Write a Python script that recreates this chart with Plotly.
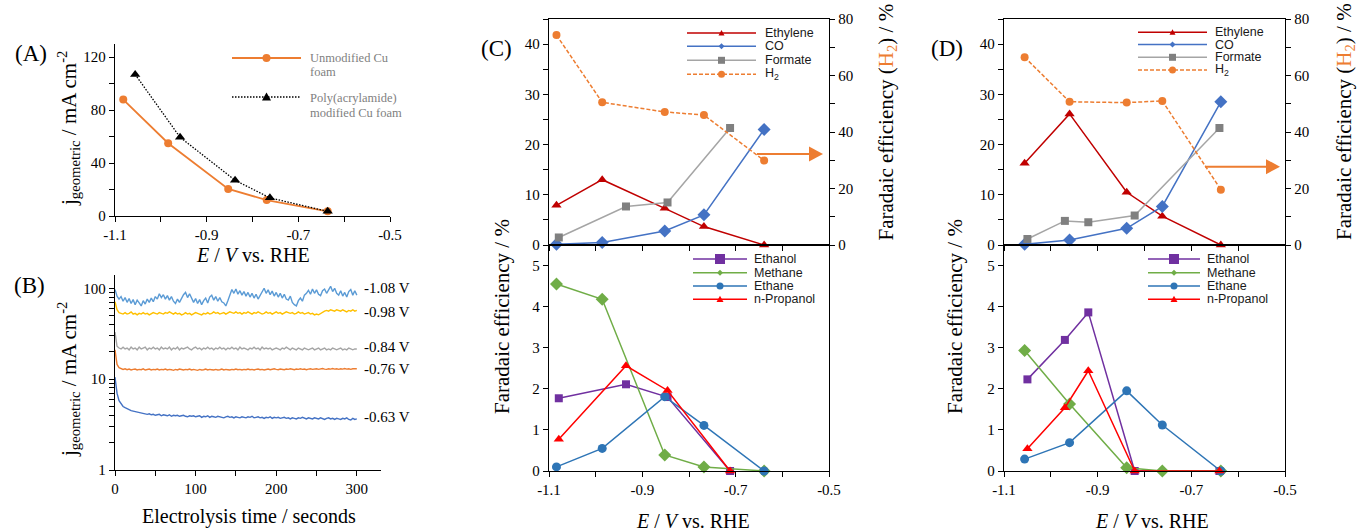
import plotly.graph_objects as go

W, H = 1357, 531


def px(x):
    return x / W


def py(y):
    return 1 - y / H


SERIF = "Liberation Serif"
SANS = "Liberation Sans"

# ---------------- Panel A data ----------------
A_x_unmod = [-1.082, -0.984, -0.853, -0.769, -0.636]
A_j_unmod = [88, 55, 20.5, 12, 3.5]
A_x_poly = [-1.056, -0.958, -0.838, -0.762, -0.636]
A_j_poly = [107, 59.5, 27, 13.7, 3.5]
A_names = ["Unmodified Cu foam", "Poly(acrylamide) modified Cu foam"]

# ---------------- Panel B data ----------------
B_t = [0, 2.5, 5, 7.5, 10, 12.5, 15, 17.5, 20, 22.5,
       25, 27.5, 30, 32.5, 35, 37.5, 40, 42.5, 45, 47.5,
       50, 52.5, 55, 57.5, 60, 62.5, 65, 67.5, 70, 72.5,
       75, 77.5, 80, 82.5, 85, 87.5, 90, 92.5, 95, 97.5,
       100, 102.5, 105, 107.5, 110, 112.5, 115, 117.5, 120, 122.5,
       125, 127.5, 130, 132.5, 135, 137.5, 140, 142.5, 145, 147.5,
       150, 152.5, 155, 157.5, 160, 162.5, 165, 167.5, 170, 172.5,
       175, 177.5, 180, 182.5, 185, 187.5, 190, 192.5, 195, 197.5,
       200, 202.5, 205, 207.5, 210, 212.5, 215, 217.5, 220, 222.5,
       225, 227.5, 230, 232.5, 235, 237.5, 240, 242.5, 245, 247.5,
       250, 252.5, 255, 257.5, 260, 262.5, 265, 267.5, 270, 272.5,
       275, 277.5, 280, 282.5, 285, 287.5, 290, 292.5, 295, 297.5,
       300]
B_m108 = [97, 82, 76, 81, 72, 79, 70, 77, 68, 75,
          66, 74, 69, 64, 73, 67, 76, 70, 78, 71,
          81, 76, 87, 79, 85, 76, 83, 74, 81, 72,
          68, 76, 70, 78, 85, 90, 79, 87, 76, 70,
          77, 68, 75, 66, 73, 78, 69, 80, 84, 74,
          81, 72, 79, 71, 69, 64, 73, 84, 97, 88,
          98, 86, 94, 84, 92, 82, 90, 80, 88, 78,
          86, 76, 84, 94, 100, 88, 96, 85, 93, 82,
          90, 80, 88, 78, 86, 76, 74, 82, 70, 66,
          64, 73, 78, 72, 84, 88, 95, 86, 98, 88,
          96, 86, 83, 94, 98, 88, 97, 105, 92, 100,
          88, 84, 94, 82, 90, 80, 92, 97, 84, 94,
          84]
B_m098 = [71, 58, 54, 53, 52, 54, 52, 53, 55, 52,
          53, 51, 53, 52, 54, 52, 53, 51, 52, 54,
          53, 52, 54, 53, 52, 54, 53, 55, 53, 52,
          54, 52, 53, 51, 52, 54, 52, 53, 51, 52,
          54, 53, 52, 51, 53, 52, 54, 52, 53, 55,
          53, 54, 52, 53, 54, 52, 53, 55, 54, 53,
          55, 53, 54, 52, 54, 53, 55, 53, 52, 54,
          53, 55, 54, 52, 53, 55, 53, 54, 52, 54,
          55, 53, 54, 52, 53, 55, 54, 53, 54, 52,
          53, 55, 53, 54, 52, 53, 54, 52, 53, 51,
          52, 51, 53, 55, 56, 57, 56, 58, 57, 56,
          58, 57, 56, 58, 57, 55, 57, 56, 58, 56,
          57]
B_m084 = [33, 23, 22, 21.5, 22.5, 21.5, 22, 21, 22.5, 21.5,
          22, 21, 22.5, 21.5, 22, 22.5, 21, 22, 21.5, 22.5,
          21.5, 22, 21, 22.5, 21.5, 22, 21.5, 22.5, 21, 22,
          21.5, 22.5, 21, 22, 21.5, 22, 22.5, 21.5, 21, 22,
          22.5, 21.5, 22, 21, 22, 21.5, 22.5, 21.5, 22, 21,
          22, 21.5, 22.5, 21.5, 22, 21, 22, 21.5, 22.5, 21.5,
          22, 21, 22.5, 21.5, 22, 21.5, 21, 22, 21.5, 22.5,
          21.5, 22, 21, 22.5, 21.5, 22, 21.5, 22, 21, 21.5,
          22, 21.5, 21, 22, 21.5, 22.5, 21.5, 21, 22, 21.5,
          21, 22, 21.5, 21, 22, 21.5, 21, 21.5, 22, 21,
          21.5, 22, 21, 21.5, 22, 21, 21.5, 21, 22, 21.5,
          21, 21.5, 22, 21, 21.5, 21, 22, 21.5, 21, 21.5,
          21.5]
B_m076 = [21, 14.5, 13.4, 13, 12.8, 13, 12.7, 12.9, 12.6, 12.8,
          12.9, 12.6, 12.8, 12.7, 13, 12.6, 12.8, 12.9, 12.6, 12.8,
          12.7, 12.9, 12.6, 12.8, 12.7, 12.9, 12.6, 12.8, 12.7, 12.5,
          12.8, 12.6, 12.9, 12.7, 12.6, 12.8, 12.7, 12.9, 12.6, 12.8,
          12.7, 12.5, 12.8, 12.6, 12.7, 12.9, 12.6, 12.8, 12.7, 12.6,
          12.8, 12.6, 12.7, 12.9, 12.6, 12.8, 12.7, 12.6, 12.8, 12.7,
          12.9, 12.7, 12.8, 12.6, 12.8, 12.7, 12.9, 12.7, 12.8, 12.6,
          12.8, 12.9, 12.7, 12.8, 12.6, 12.8, 12.9, 12.7, 12.8, 13,
          12.8, 12.7, 12.9, 12.8, 12.7, 12.9, 12.8, 13, 12.8, 12.7,
          12.9, 12.8, 13, 12.8, 12.9, 12.7, 12.9, 13, 12.8, 12.9,
          13, 12.8, 12.9, 13.1, 12.9, 12.8, 13, 12.9, 13.1, 12.9,
          13, 12.8, 13, 12.9, 13.1, 12.9, 13, 12.8, 13, 12.9,
          13]
B_m063 = [10.5, 7.0, 5.8, 5.3, 5.0, 4.85, 4.7, 4.6, 4.5, 4.45,
          4.4, 4.3, 4.25, 4.2, 4.15, 4.15, 4.1, 4.15, 4.05, 4.1,
          4.0, 4.05, 4.1, 3.95, 4.05, 4.0, 3.95, 4.05, 3.9, 4.0,
          3.95, 4.0, 3.9, 3.95, 4.0, 3.9, 3.85, 3.95, 3.9, 3.95,
          3.85, 3.9, 3.95, 3.8, 3.9, 3.85, 3.95, 3.8, 3.9, 3.85,
          3.8, 3.9, 3.85, 3.8, 3.75, 3.85, 3.9, 3.8, 3.85, 3.75,
          3.85, 3.8, 3.75, 3.85, 3.8, 3.75, 3.85, 3.8, 3.9, 3.75,
          3.8, 3.85, 3.75, 3.8, 3.7, 3.8, 3.75, 3.85, 3.7, 3.8,
          3.75, 3.8, 3.7, 3.75, 3.8, 3.7, 3.75, 3.65, 3.75, 3.7,
          3.65, 3.75, 3.7, 3.8, 3.7, 3.65, 3.75, 3.7, 3.65, 3.75,
          3.7, 3.65, 3.75, 3.7, 3.6, 3.7, 3.75, 3.65, 3.7, 3.6,
          3.7, 3.65, 3.6, 3.7, 3.65, 3.75, 3.6, 3.55, 3.7, 3.6,
          3.65]
B_labels = ["-1.08 V", "-0.98 V", "-0.84 V", "-0.76 V", "-0.63 V"]
B_colors = ["#5B9BD5", "#FFC000", "#A5A5A5", "#ED7D31", "#4472C4"]

# ---------------- Panel C data ----------------
C_x_gas = [-1.084, -0.986, -0.852, -0.768, -0.639]
C_x_liq = [-1.079, -0.935, -0.846, -0.712]
C_ethylene = [7.9, 13.0, 7.3, 3.67, 0]
C_co = [0.13, 0.5, 2.8, 6.0, 23.0]
C_formate = [1.5, 7.67, 8.47, 23.3]
C_h2 = [74.3, 50.5, 47.1, 46.0, 29.9]
C_ethanol = [1.77, 2.11, 1.80, 0]
C_methane = [4.55, 4.18, 0.39, 0.10, 0]
C_ethane = [0.10, 0.55, 1.81, 1.11, 0]
C_propanol = [0.77, 2.56, 1.96, 0]

# ---------------- Panel D data ----------------
D_x_gas = [-1.056, -0.960, -0.838, -0.762, -0.637]
D_x_liq = [-1.050, -0.970, -0.920, -0.821, -0.640]
D_ethylene = [16.3, 26.1, 10.5, 5.73, 0]
D_co = [0.13, 1.0, 3.33, 7.67, 28.5]
D_formate = [1.2, 4.8, 4.53, 5.87, 23.3]
D_h2 = [66.5, 50.7, 50.4, 51.0, 19.6]
D_ethanol = [2.23, 3.19, 3.86, 0, 0]
D_methane = [2.93, 1.63, 0.08, 0, 0]
D_ethane = [0.29, 0.69, 1.95, 1.12, 0]
D_propanol = [0.54, 1.54, 2.44, 0, 0]

TOP_NAMES = ["Ethylene", "CO", "Formate", "H<sub>2</sub>"]
BOT_NAMES = ["Ethanol", "Methane", "Ethane", "n-Propanol"]

E_major = [-1.1, -0.9, -0.7, -0.5]
E_labels = ["-1.1", "-0.9", "-0.7", "-0.5"]
E_minor = [-1.0, -0.8, -0.6]

# styles: (line colour, marker colour, symbol, marker size, dash, legend marker size)
ST = {
    "Ethylene": ("#C00000", "#C00000", "triangle-up", 9, "solid", 6),
    "CO": ("#4472C4", "#4472C4", "diamond", 10, "solid", 5),
    "Formate": ("#A5A5A5", "#808080", "square", 8, "solid", 7),
    "H2": ("#ED7D31", "#ED7D31", "circle", 8, "4px,2px", 7),
    "Ethanol": ("#7030A0", "#7030A0", "square", 8, "solid", 10),
    "Methane": ("#70AD47", "#70AD47", "diamond", 10, "solid", 5),
    "Ethane": ("#2E75B6", "#2E75B6", "circle", 9, "solid", 7),
    "n-Propanol": ("#FF0000", "#FF0000", "triangle-up", 9, "solid", 7),
}

fig = go.Figure()


def add(x, y, xa, ya, key, width=1.5):
    lc, mc, sym, ms, dash, _ = ST[key]
    fig.add_trace(go.Scatter(
        x=x, y=y, xaxis=xa, yaxis=ya, mode="lines+markers", name=key,
        line=dict(color=lc, width=width, dash=dash),
        marker=dict(symbol=sym, size=ms, color=mc, line=dict(width=0)),
        cliponaxis=False, showlegend=False))


# Panel A traces
fig.add_trace(go.Scatter(x=A_x_unmod, y=A_j_unmod, xaxis="x", yaxis="y",
                         mode="lines+markers", name=A_names[0],
                         line=dict(color="#ED7D31", width=1.8),
                         marker=dict(symbol="circle", size=8, color="#ED7D31"),
                         cliponaxis=False, showlegend=False))
fig.add_trace(go.Scatter(x=A_x_poly, y=A_j_poly, xaxis="x", yaxis="y",
                         mode="lines+markers", name=A_names[1],
                         line=dict(color="black", width=1.3, dash="1.5px,1.5px"),
                         marker=dict(symbol="triangle-up", size=9, color="black"),
                         cliponaxis=False, showlegend=False))

# Panel B traces
for vals, col, lab in zip([B_m108, B_m098, B_m084, B_m076, B_m063], B_colors, B_labels):
    fig.add_trace(go.Scatter(x=B_t, y=vals, xaxis="x2", yaxis="y2", mode="lines",
                             name=lab, line=dict(color=col, width=1.4),
                             showlegend=False))

# Panel C traces
add(C_x_gas, C_ethylene, "x3", "y3", "Ethylene")
add(C_x_gas, C_co, "x3", "y3", "CO")
add(C_x_liq, C_formate, "x3", "y3", "Formate")
add(C_x_gas, C_h2, "x3", "y4", "H2")
add(C_x_liq, C_ethanol, "x4", "y5", "Ethanol")
add(C_x_gas, C_methane, "x4", "y5", "Methane")
add(C_x_gas, C_ethane, "x4", "y5", "Ethane")
add(C_x_liq, C_propanol, "x4", "y5", "n-Propanol")

# Panel D traces
add(D_x_gas, D_ethylene, "x5", "y6", "Ethylene")
add(D_x_gas, D_co, "x5", "y6", "CO")
add(D_x_liq, D_formate, "x5", "y6", "Formate")
add(D_x_gas, D_h2, "x5", "y7", "H2")
add(D_x_liq, D_ethanol, "x6", "y8", "Ethanol")
add(D_x_gas, D_methane, "x6", "y8", "Methane")
add(D_x_gas, D_ethane, "x6", "y8", "Ethane")
add(D_x_liq, D_propanol, "x6", "y8", "n-Propanol")

base = dict(showline=True, linecolor="black", linewidth=1.3, ticks="outside",
            ticklen=5, tickwidth=1.2, tickcolor="black", showgrid=False,
            zeroline=False, automargin=False, tickmode="array",
            tickfont=dict(family=SERIF, size=15, color="black"))


def ax(major, labels=None, minor=None, **kw):
    d = dict(base)
    d["tickvals"] = major
    if labels is not None:
        d["ticktext"] = labels
    if minor:
        d["minor"] = dict(tickmode="array", tickvals=minor, ticks="outside",
                          ticklen=5, tickwidth=1.2, tickcolor="black",
                          showgrid=False)
    d.update(kw)
    return d


Ey = lambda top, bot: [py(bot), py(top)]

layout = dict(
    width=W, height=H, margin=dict(l=0, r=0, t=0, b=0),
    paper_bgcolor="white", plot_bgcolor="white", showlegend=False,
    font=dict(family=SERIF, color="black"),
    # Panel A
    xaxis=ax(E_major, E_labels, E_minor, domain=[px(115), px(390)], anchor="y",
             range=[-1.1, -0.5]),
    yaxis=ax([0, 40, 80, 120], ["0", "40", "80", "120"], [20, 60, 100],
             domain=Ey(44, 216), anchor="x", range=[0, 130]),
    # Panel B
    xaxis2=ax([0, 100, 200, 300], ["0", "100", "200", "300"], [50, 150, 250],
              domain=[px(115), px(381)], anchor="y2", range=[0, 330]),
    yaxis2=ax([1, 10, 100], ["1", "10", "100"],
              [2, 3, 4, 5, 6, 7, 8, 9, 20, 30, 40, 50, 60, 70, 80, 90],
              domain=Ey(275, 470), anchor="x2", type="log", range=[0, 2.146]),
    # Panel C top
    xaxis3=ax(E_major, None, E_minor, domain=[px(549), px(829)], anchor="y3",
              range=[-1.1, -0.5], showticklabels=False, mirror=True),
    yaxis3=ax([0, 10, 20, 30, 40], ["0", "10", "20", "30", "40"], [5, 15, 25, 35, 45],
              domain=Ey(19, 245), anchor="x3", range=[0, 45]),
    yaxis4=ax([0, 20, 40, 60, 80], ["0", "20", "40", "60", "80"], [10, 30, 50, 70],
              overlaying="y3", anchor="x3", side="right", range=[0, 80]),
    # Panel C bottom
    xaxis4=ax(E_major, E_labels, E_minor, domain=[px(549), px(829)], anchor="y5",
              range=[-1.1, -0.5], mirror=True),
    yaxis5=ax([0, 1, 2, 3, 4, 5], ["0", "1", "2", "3", "4", "5"], None,
              domain=Ey(245, 471), anchor="x4", range=[0, 5.5], mirror=True),
    # Panel D top
    xaxis5=ax(E_major, None, E_minor, domain=[px(1004), px(1285)], anchor="y6",
              range=[-1.1, -0.5], showticklabels=False, mirror=True),
    yaxis6=ax([0, 10, 20, 30, 40], ["0", "10", "20", "30", "40"], [5, 15, 25, 35, 45],
              domain=Ey(19, 245), anchor="x5", range=[0, 45]),
    yaxis7=ax([0, 20, 40, 60, 80], ["0", "20", "40", "60", "80"], [10, 30, 50, 70],
              overlaying="y6", anchor="x5", side="right", range=[0, 80]),
    # Panel D bottom
    xaxis6=ax(E_major, E_labels, E_minor, domain=[px(1004), px(1285)], anchor="y8",
              range=[-1.1, -0.5], mirror=True),
    yaxis8=ax([0, 1, 2, 3, 4, 5], ["0", "1", "2", "3", "4", "5"], None,
              domain=Ey(245, 471), anchor="x6", range=[0, 5.5], mirror=True),
)
fig.update_layout(**layout)

annotations = []
shapes = []


def ann(text, x, y, size=20, color="black", family=SERIF, xanchor="center",
        angle=0):
    annotations.append(dict(text=text, x=px(x), y=py(y), xref="paper", yref="paper",
                            showarrow=False, xanchor=xanchor, yanchor="middle",
                            textangle=angle,
                            font=dict(size=size, color=color, family=family)))


def poly_shape(pts, color):
    path = "M" + " L".join(f"{px(a):.5f},{py(b):.5f}" for a, b in pts) + " Z"
    shapes.append(dict(type="path", xref="paper", yref="paper", path=path,
                       fillcolor=color, line=dict(width=0), layer="above"))


def marker_shape(cx, cy, sym, s, color):
    r = s / 2
    if sym == "circle":
        shapes.append(dict(type="circle", xref="paper", yref="paper",
                           x0=px(cx - r), x1=px(cx + r), y0=py(cy + r), y1=py(cy - r),
                           fillcolor=color, line=dict(width=0), layer="above"))
        return
    if sym == "square":
        pts = [(cx - r, cy - r), (cx + r, cy - r), (cx + r, cy + r), (cx - r, cy + r)]
    elif sym == "diamond":
        pts = [(cx, cy - r * 1.2), (cx + r * 1.2, cy), (cx, cy + r * 1.2), (cx - r * 1.2, cy)]
    else:  # triangle-up
        pts = [(cx - r, cy + r * 0.8), (cx + r, cy + r * 0.8), (cx, cy - r)]
    poly_shape(pts, color)


def leg_key(x0, x1, y, lc, mc, sym, ms, dash="solid", width=1.5):
    shapes.append(dict(type="line", xref="paper", yref="paper",
                       x0=px(x0), x1=px(x1), y0=py(y), y1=py(y),
                       line=dict(color=lc, width=width, dash=dash), layer="above"))
    marker_shape((x0 + x1) / 2, y, sym, ms, mc)


def arrow(tail_x, head_x, y, color="#ED7D31"):
    head_len, half_h = 14, 7.5
    shapes.append(dict(type="line", xref="paper", yref="paper",
                       x0=px(tail_x), x1=px(head_x - head_len + 1), y0=py(y), y1=py(y),
                       line=dict(color=color, width=2), layer="above"))
    poly_shape([(head_x - head_len, y - half_h), (head_x, y),
                (head_x - head_len, y + half_h)], color)


# ---- Panel labels
ann("(A)", 31, 53, size=23)
ann("(B)", 29, 285, size=23)
ann("(C)", 496, 48, size=23)
ann("(D)", 947, 49, size=23)

E_title = "<i>E</i> / <i>V</i> vs. RHE"
J_title = "j<sub>geometric</sub> / mA cm<sup>-2</sup>"
FE_left = "Faradaic efficiency / %"
FE_right = 'Faradaic efficiency (<span style="color:#ED7D31">H<sub>2</sub></span>) / %'

# ---- Panel A titles & legend
ann(E_title, 253, 255, size=20)
ann(J_title, 68, 129, size=21, angle=-90)
leg_key(232, 301, 58, "#ED7D31", "#ED7D31", "circle", 8, width=1.8)
leg_key(232, 301, 97, "black", "black", "triangle-up", 9, dash="1.5px,1.5px", width=1.3)
ann("Unmodified Cu", 308, 58, size=12.5, color="#7F7F7F", xanchor="left")
ann("foam", 308, 72, size=12.5, color="#7F7F7F", xanchor="left")
ann("Poly(acrylamide)", 308, 98, size=12.5, color="#7F7F7F", xanchor="left")
ann("modified Cu foam", 308, 113, size=12.5, color="#7F7F7F", xanchor="left")

# ---- Panel B titles & labels
ann("Electrolysis time / seconds", 249, 516, size=20)
ann(J_title, 68, 380, size=21, angle=-90)
for lab, yy in zip(B_labels, [288, 311.5, 346.5, 369, 417]):
    ann(lab, 362, yy, size=15, xanchor="left")

# ---- Panel C / D titles, legends, arrows
for (lx, rx, tx, top_leg, bot_leg, arr) in [
        (502, 886.5, 693,
         (687, 756, 763, [33, 46.3, 60.3, 74.3]),
         (693, 747, 752, [259, 272.7, 286, 299.3]),
         (757, 823, 154)),
        (955, 1345, 1152,
         (1138, 1207, 1213, [32.3, 44.6, 57.3, 70]),
         (1148, 1200, 1205, [259, 272.7, 286, 299.3]),
         (1205, 1280, 166.7))]:
    ann(FE_left, lx, 317, size=21, angle=-90)
    ann(FE_right, rx, 122, size=21, angle=-90)
    ann(E_title, tx, 521, size=20)
    x0, x1, xt, rows = top_leg
    for key, name, yy in zip(["Ethylene", "CO", "Formate", "H2"], TOP_NAMES, rows):
        lc, mc, sym, ms, dash, lms = ST[key]
        leg_key(x0, x1, yy, lc, mc, sym, lms, dash=dash)
        ann(name, xt, yy, size=12.5, color="#1a1a1a", family=SANS, xanchor="left")
    x0, x1, xt, rows = bot_leg
    for key, name, yy in zip(["Ethanol", "Methane", "Ethane", "n-Propanol"], BOT_NAMES, rows):
        lc, mc, sym, ms, dash, lms = ST[key]
        leg_key(x0, x1, yy, lc, mc, sym, lms, dash=dash)
        ann(name, xt, yy, size=12.5, color="#1a1a1a", family=SANS, xanchor="left")
    arrow(*arr)

fig.update_layout(annotations=annotations, shapes=shapes)
fig.write_html("out.html", config={"displayModeBar": False},
               post_script="document.body.style.margin='0px';"
                           "document.body.style.overflow='hidden';")
